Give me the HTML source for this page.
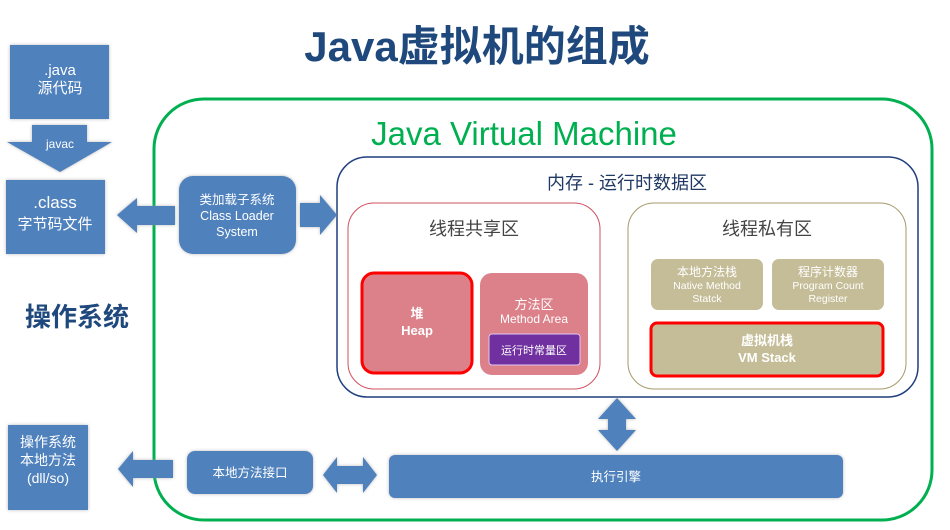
<!DOCTYPE html>
<html><head><meta charset="utf-8"><style>
html,body{margin:0;padding:0;background:#fff;width:950px;height:530px;overflow:hidden}
svg text{font-family:"Liberation Sans","Noto Sans CJK SC",sans-serif}
</style></head><body>
<svg width="950" height="530" viewBox="0 0 950 530" xmlns="http://www.w3.org/2000/svg">
<defs><filter id="sh" x="-10%" y="-10%" width="130%" height="130%"><feDropShadow dx="0" dy="0" stdDeviation="1.5" flood-color="#999" flood-opacity="0.7"/></filter></defs>
<text x="477" y="61" text-anchor="middle" font-size="42" font-weight="bold" fill="#1f497d">Java虚拟机的组成</text>
<rect x="154" y="99" width="778" height="421" rx="50" fill="none" stroke="#00b050" stroke-width="3"/>
<text x="524" y="145" text-anchor="middle" font-size="33" fill="#00b050">Java Virtual Machine</text>
<rect x="337" y="157" width="581" height="240" rx="30" fill="#fff" stroke="#1f3f7f" stroke-width="1.5"/>
<text x="627" y="189" text-anchor="middle" font-size="18" fill="#1f3864">内存 - 运行时数据区</text>
<rect x="348" y="203" width="252" height="186" rx="26" fill="#fff" stroke="#d05060" stroke-width="1"/>
<text x="474" y="235" text-anchor="middle" font-size="18" fill="#444">线程共享区</text>
<rect x="362" y="273" width="110" height="100" rx="12" fill="#dc8189" stroke="#f00" stroke-width="3"/>
<text x="417" y="318" text-anchor="middle" font-size="13" font-weight="bold" fill="#fff">堆</text>
<text x="417" y="335" text-anchor="middle" font-size="13" font-weight="bold" fill="#fff">Heap</text>
<rect x="480" y="273" width="108" height="102" rx="12" fill="#dc8189"/>
<text x="534" y="309" text-anchor="middle" font-size="13" fill="#fff">方法区</text>
<text x="534" y="323" text-anchor="middle" font-size="12" fill="#fff">Method Area</text>
<rect x="489" y="334" width="91" height="31" rx="3" fill="#7030a0" stroke="#e0c8f0" stroke-width="1"/>
<text x="534" y="354" text-anchor="middle" font-size="11" fill="#fff">运行时常量区</text>
<rect x="628" y="203" width="278" height="186" rx="26" fill="#fff" stroke="#a59a6a" stroke-width="1"/>
<text x="767" y="235" text-anchor="middle" font-size="18" fill="#444">线程私有区</text>
<rect x="651" y="259" width="112" height="51" rx="7" fill="#c4bd97"/>
<text x="707" y="276" text-anchor="middle" font-size="12" fill="#fff">本地方法栈</text>
<text x="707" y="289" text-anchor="middle" font-size="10.5" fill="#fff">Native Method</text>
<text x="707" y="302" text-anchor="middle" font-size="10.5" fill="#fff">Statck</text>
<rect x="772" y="259" width="112" height="51" rx="7" fill="#c4bd97"/>
<text x="828" y="276" text-anchor="middle" font-size="12" fill="#fff">程序计数器</text>
<text x="828" y="289" text-anchor="middle" font-size="10.5" fill="#fff">Program Count</text>
<text x="828" y="302" text-anchor="middle" font-size="10.5" fill="#fff">Register</text>
<rect x="651" y="323" width="232" height="53" rx="6" fill="#c4bd97" stroke="#f00" stroke-width="3"/>
<text x="767" y="345" text-anchor="middle" font-size="13" font-weight="bold" fill="#fff">虚拟机栈</text>
<text x="767" y="362" text-anchor="middle" font-size="13" font-weight="bold" fill="#fff">VM Stack</text>
<g filter="url(#sh)" fill="#4f81bd">
<rect x="10" y="45" width="99" height="74"/>
<polygon points="32,125 87,125 87,142 112,142 60,172 7,142 32,142"/>
<rect x="6" y="180" width="99" height="74"/>
<polygon points="117,215 137,198 137,206 175,206 175,225 137,225 137,233"/>
<rect x="179" y="176" width="117" height="78" rx="14"/>
<polygon points="300,203 320,203 320,195 337,215 320,235 320,227 300,227"/>
<rect x="8" y="425" width="80" height="85"/>
<polygon points="118,469 133,451 133,460 173,460 173,478 133,478 133,487"/>
<rect x="187" y="451" width="126" height="43" rx="8"/>
<polygon points="323,475 337,457 337,466 363,466 363,457 377,475 363,493 363,484 337,484 337,493"/>
<rect x="389" y="455" width="454" height="43" rx="6"/>
<polygon points="617,398 636,419 626,419 626,430 636,430 617,451 598,430 608,430 608,419 598,419"/>
</g>
<text x="60" y="75" text-anchor="middle" font-size="15" fill="#fff">.java</text>
<text x="60" y="93" text-anchor="middle" font-size="15" fill="#fff">源代码</text>
<text x="60" y="148" text-anchor="middle" font-size="12" fill="#fff">javac</text>
<text x="55" y="208" text-anchor="middle" font-size="17" fill="#fff">.class</text>
<text x="55" y="229" text-anchor="middle" font-size="15" fill="#fff">字节码文件</text>
<text x="237" y="204" text-anchor="middle" font-size="12.5" fill="#fff">类加载子系统</text>
<text x="237" y="220" text-anchor="middle" font-size="12.5" fill="#fff">Class Loader</text>
<text x="237" y="236" text-anchor="middle" font-size="12.5" fill="#fff">System</text>
<text x="77" y="326" text-anchor="middle" font-size="26" font-weight="bold" fill="#1f497d">操作系统</text>
<text x="48" y="447" text-anchor="middle" font-size="14" fill="#fff">操作系统</text>
<text x="48" y="465" text-anchor="middle" font-size="14" fill="#fff">本地方法</text>
<text x="48" y="483" text-anchor="middle" font-size="14" fill="#fff">(dll/so)</text>
<text x="250" y="477" text-anchor="middle" font-size="12.5" fill="#fff">本地方法接口</text>
<text x="616" y="481" text-anchor="middle" font-size="12.5" fill="#fff">执行引擎</text>
</svg>
</body></html>
